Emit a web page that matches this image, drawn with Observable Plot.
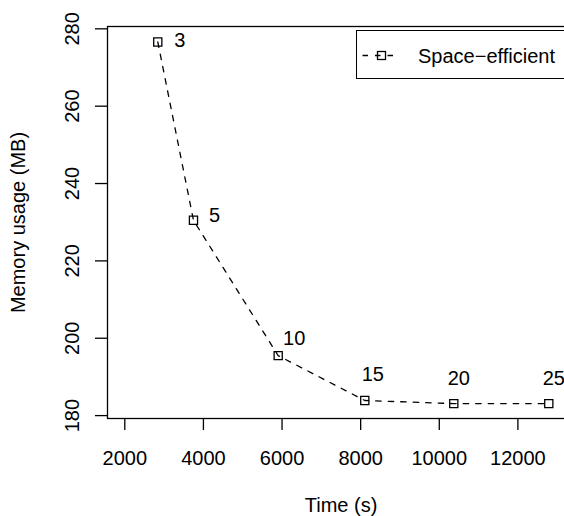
<!DOCTYPE html>
<html><head><meta charset="utf-8">
<script src="https://cdn.jsdelivr.net/npm/d3@7"></script>
<script src="https://cdn.jsdelivr.net/npm/@observablehq/plot@0.6"></script>
<style>
html,body{margin:0;padding:0;background:#fff;overflow:hidden;width:564px;height:516px;}
#wrap{position:relative;width:564px;height:516px;overflow:hidden;font-family:"Liberation Sans",Arial,sans-serif;}
#wrap svg.chart{position:absolute;left:0;top:0;max-width:none !important;width:580px !important;height:516px !important;}
#legend{position:absolute;left:356px;top:29.5px;width:230px;height:49.5px;border:1.3px solid #000;box-sizing:border-box;background:#fff;}
</style></head><body><div id="wrap"></div>
<script>
// Data
const times  = [2839, 3747, 5902, 8105, 10369, 12786];   // Time (s)
const memory = [276.6, 230.5, 195.5, 183.9, 183.1, 183.1]; // Memory usage (MB)
const labels = ["3", "5", "10", "15", "20", "25"];
const xTicks = [2000, 4000, 6000, 8000, 10000, 12000];
const yTicks = [180, 200, 220, 240, 260, 280];
const seriesName = "Space\u2212efficient";

const data = times.map((t, i) => ({time: t, memory: memory[i], label: labels[i], i}));

const font = "Liberation Sans, Arial, Helvetica, sans-serif";
const labelMark = (idx, dx, dy) => Plot.text(data.filter(d => idx.includes(d.i)), {
  x: "time", y: "memory", text: "label", dx, dy, fontSize: 20, fill: "black",
  textAnchor: "middle", lineAnchor: "middle"
});

const chart = Plot.plot({
  width: 580, height: 516,
  marginLeft: 107, marginRight: 6, marginTop: 26, marginBottom: 98,
  style: {fontFamily: font, fontSize: "20px", background: "white", color: "black", overflow: "visible", maxWidth: "none"},
  x: {domain: [1560, 13440]},
  y: {domain: [179.25, 280.6]},
  marks: [
    Plot.frame({stroke: "black", strokeWidth: 1.3}),
    Plot.axisX(xTicks, {anchor: "bottom", tickSize: 12, tickPadding: 20, strokeWidth: 1.3,
      tickFormat: d => String(d), fontSize: 20, label: null}),
    Plot.axisY(yTicks, {anchor: "left", tickSize: 12, strokeWidth: 1.3,
      tickFormat: () => "", label: null}),
    Plot.text(yTicks, {y: d => d, frameAnchor: "left", dx: -35.4, rotate: -90,
      textAnchor: "middle", lineAnchor: "middle",
      text: d => String(d), fontSize: 20, fill: "black"}),
    Plot.text(["Time (s)"], {frameAnchor: "bottom", dy: 87, textAnchor: "middle", lineAnchor: "middle",
      text: d => d, fontSize: 20, fill: "black"}),
    Plot.text(["Memory usage (MB)"], {frameAnchor: "left", dx: -89, rotate: -90,
      textAnchor: "middle", lineAnchor: "middle", text: d => d, fontSize: 20, fill: "black"}),
    Plot.line(data, {x: "time", y: "memory", stroke: "black", strokeWidth: 1.3, strokeDasharray: "5.5,7"}),
    Plot.dot(data, {x: "time", y: "memory", symbol: "square", r: 4.6, stroke: "black", strokeWidth: 1.3, fill: "none"}),
    labelMark([0], 22, -1),
    labelMark([1], 21, -5),
    labelMark([2], 16, -17),
    labelMark([3], 8, -26),
    labelMark([4, 5], 5, -25)
  ]
});
chart.classList.add("chart");

const wrap = document.getElementById("wrap");
wrap.appendChild(chart);

// Legend (R-style boxed legend, top right)
const legend = document.createElement("div");
legend.id = "legend";
legend.innerHTML = `<svg width="230" height="48" style="position:absolute;left:0;top:0">
  <line x1="4.5" x2="40" y1="24.5" y2="24.5" stroke="black" stroke-width="1.3" stroke-dasharray="5.5,7" stroke-dashoffset="-1"/>
  <rect x="20.5" y="20.5" width="8" height="8" fill="none" stroke="black" stroke-width="1.3"/>
  <text x="61" y="31.5" font-family="${font}" font-size="20" fill="black">${seriesName}</text>
</svg>`;
wrap.appendChild(legend);
</script></body></html>
